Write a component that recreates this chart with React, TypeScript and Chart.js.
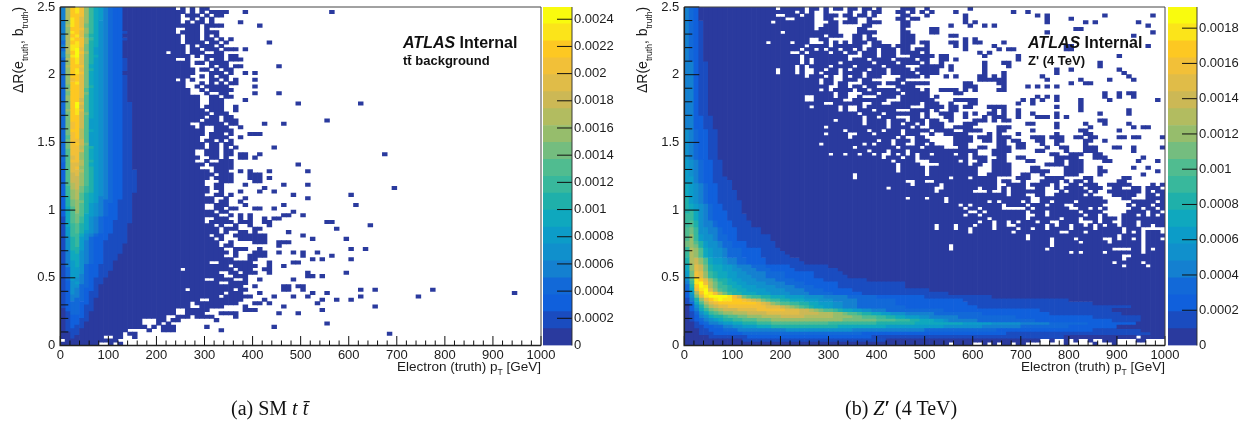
import React, { useEffect, useRef } from "react";
import { Chart, registerables } from "chart.js";
Chart.register(...registerables);

const levelColors = ["#2a3a9e","#1a4cc0","#1060dc","#1269d8","#1480d0","#1090cc","#0c9cc8","#0fa8be","#1fb0aa","#38b89c","#50bc90","#74bd7f","#96bd6c","#b2bc60","#ccb855","#e0bc48","#f2c038","#fdc822","#fbe41a","#f9fb0e"];
const zMaxA = 0.00249;
const zMaxB = 0.00192;
const xTickValues = [0,100,200,300,400,500,600,700,800,900,1000];
const zTicksA = [0,0.0002,0.0004,0.0006,0.0008,0.001,0.0012,0.0014,0.0016,0.0018,0.002,0.0022,0.0024];
const zTicksB = [0,0.0002,0.0004,0.0006,0.0008,0.001,0.0012,0.0014,0.0016,0.0018];

const headA = ["4dhigc9764322","4dhigc9764322","4dhhgc9764322","4dihfc9764322","4cihfc9754322","4dihfb9754322","4chhgc9754322","4cihfc97543221","4dhifb8754322","4dihgc97543221","3dhigc8754322","4diigb8754322","3dijfb8654322","4dhjgc8654322","4cijfb8754322","3dhifb86543221","3chifb86543221","3dhhgb76543221","3chifb86543221","3chigb7654322","3chhfb76543221","3cghfb76543221","3chifb76543221","3bhhfb86543221","3chhfa76543221","3bhhfb76543221","3chhfa76543221","3chhea76543221","3bhjfa765432211","3bhjea765432211","3chifa765432211","3bhieb765432211","3bhhea765432211","3bhhea665432211","3bghea665432211","3bghea665432211","3bhhda765432211","3bghda665432211","3aghda665432211","3bggea665432211","3bgheb665432211","3bggda865432211","3aggea765432211","3aggca765432211","3afgca765432211","3aggda865432211","2affda765432211","2afgca865432211","2affda8654322111","2aefca8654322111","2aeeca8654322111","2aeeca8654322111","2adeca8654322111","29deb98654322111","29cdb98654322111","29cda8765432211","28cda8764432211","28bcb8764332111","28bca8654322111","27aca8654322111","27aca8654322111","27aba7654322111","17ab97543222111","17ab97543221111","179a8754322111","169a8754322111","169a8654322111","16997543221111","15896532221111","15896432211111","1589643221111","1588643221111","1478543221111","147754322111","147754322111","14675432211","14675322111","13665322111","1366532211","1366432211","136543211","125643211","12553321","12543221","12543211","12443211","1243321","1233221","1233211","0233211","013321","012221","012211","01221","01211","0111","0011","001",".00","0"];
const solidA = [24,26,25,25,25,26,24,24,25,25,25,26,26,26,27,27,27,27,28,28,27,26,26,26,27,27,29,29,29,29,30,31,30,29,27,28,30,30,29,29,30,30,28,28,29,28,30,29,31,32,31,30,30,31,31,30,32,32,30,30,32,33,30,30,32,33,33,31,32,33,33,34,35,34,35,31,35,36,33,34,30,33,38,36,34,33,29,27,27,24,24,22,17,17,18,14,13,9,12,8];
const sparseA = ["25,27,29-30","27,29,31-34,38,56","26-28,30,32-33","27,29,31","26,28-29,31,37","26-28,30-33,41","26-28,30","25-28,30-32","26-28,30,32","26-28,30-31,33,35","26-29,31-32,34,43","27,29-31,33","27-28,30-32,34-36,38","27-29,32-33","28,30-33,35-36","30,32-33,35-37","28-29,31-34","31,33-34,36-37,45","29-30,32,34-35","31-33,35,38,40","29,31,33-34","27,31-32,34,36,40","29,31,33,35-36","28,30-34,40","29,31-35","30,33-34,40,45","31-32,34-35","31-33,38","31-33,49,62","30-33,36","31-33,36","32-34","31-32,34-35","30-32,34-36,55","29-33,35-36,42,46","29,32-34,37","32-35","31-33,35,39-41","31-34,37","30-31,33,35","31-32,34-35","31-32,34,36,44","30-32,34-35","30-32,34-35,37-38,41,67","31-32,34,37-38,40","30,33-35","31-35,49","32-35","32-34,37,39,43,51","33-35,39-41","32-35,39-41,43","33-35,40-41","32-33,38,46,51","32-33,42,69","33,37,41,44","32-33,35,48,60","34,38,51","33-34,37","32-34,38,46,61","32-33,35-36,40-41,44","33-34,48","35,37,39,46-47,50","32-34,37,39,42,44-45","31-35,37-39,42-43,55-56","33,36,39,43,64","34-36,40-41,57","34,37-38,40,47","32-33,36-42,50","33,37-42,52,59","35,40-42,45-47","34-35,45","36-38,41,60,63","36,40-42,45,48,50,53","36,39-42,50,56","35,39-40,52,54,60","33-39,43,48-49","36-40,43,46","37-39,42-43","35-36,38-40,43,51,59","36-38,51-52,54","32-35,38,41,48","35-38","40,46-47,49-50","37-38,46-47,50,62,65,77","35-37,41,52,55,94","34-39,44,48,51,62,74","31-37,42,54,57,60","28-36,40-41,43,53","29-33,38,46,65","26-30,38-40,54","26-29,33-36,45,49","24-26,28-31,36","20-21,23-24,32","20,22,55","19,21-23,30,44","18,21-23,33","14-15,68","11-12,15","","10,12"];
const holesA = ["","","","","","","","24","","","","","","22","","24-25","","","","","","24","","","","","","","","","","","","","","","","","","","","","","","","","","","","","","","","","","","","","","","","","","","","","","","","","","","","","","","","25","","","","","","26"];

const headB = ["432","432","432","432","4321","4321","4321","4321","4321","4321","4321","4321","4321","4321","4321","4321","44211","44211","44211","44211","44211","44211","44211","44211","44211","44211","44211","44211","44211","44211","44211","44211","442211","442211","442211","442211","5432211","5432211","5432211","5432211","5432211","5432211","5432211","5432211","5432211","65432211","65432211","65432211","65432211","65432211","6643221110","6643221111","7654322111","7654322111","76543221111","76543221111","86543221111","865432211111","876543221111","876543221111","897543222111","9975432221111","9975432221111","9a854432221111","9a854432221111","ab95544322211111","ab95544322211111","ac9655433221111111","ac9655433221111111","bca8655433222111111","bcb8655433222111111","9dca7655433322221111","9dca76554333222211111","9dca765543332222111111","8deca7665443322221111111","8deca76654433222211111111","7cfeb8776654443332222211111111","7cfeb877665544433322222111111111","6bgfc9877665544443333222222111111","6bgfc98776655544433332222221111111","5aihfca887665554444333322222211~8;","49ijgdb98776655554444333322222~3;1~14;","38hjidb9987766655554444333322~4;1~14;","37gijfca98877666655554444333322~5;1~16;","26dhjigdb988777666555544443333~2;2~6;1~18;","25bfijjjjigeba9988777666655554~5;3~6;2~10;1~14;","148cfhijiihhgfedba99887776665~3;4~5;3~8;2~14;1~22;","137adfghhhhhhhhgfecbaa998877666554~3;3~8;2~15;1~26;","0258bdeffggggggggfffedcba98776655444~1;3~10;2~15;1~32;","02479bcdeeeffffggggggfffeedcbaa98776655444~1;3~12;2~20;1~15;","013579abccdddeeeefffffffeeeedddccbaa98877665~1;5~2;4~6;3~10;2~14;1~15;","012457889aabbcccddddeeeeedddddd~1;ccccbbaaa99887766655~1;4~6;3~12;2~16;1~10;","012345678899aaabbbccc~1;c~12;b~7;a~4;99988777665~1;4~6;3~12;2~16;1~6;","001234456677888~1;9~3;a~12;9~10;8~8;7~10;6~6;5~6;4~6;3~8;2~10;","001122334455666~1;7~3;8~14;7~10;6~12;5~8;4~8;3~10;2~10;","0001122233344~1;4~8;5~14;4~15;3~15;2~20;1~10;","000111222~1;2~3;3~25;2~30;1~30;","0~5;1~8;2~26;1~40;0~5;","0~12;1~30;","0~100;"];
const holesB = ["19,25,28,30,33,36,39,41-44,48-49","23,25,27-28,30-33,35-36,38,41-43,46,48,50","19-20,24,27-28,32,35,38,40-44,47-49","21-22,27-28,31-33,36-37,39-43,46,49-50","18,27-29,32,36-37,41-44,47-50","27-28,32-36,39-44,47-50","27,32-35,38-44,46-50","20,32-35,40-44,47-50","29,33-34,37,39-44,48-50","26-27,30-34,37,40-44,48-50","17,22,26-28,30,32,34,38,41-44,48","25,30,37-38,43,47-49","24,27,29,32,35,37,40,44,47","22-23,25,30,33,36,40,44,49","24,34-36,40,44-46","24,26,34,38,43,48","24,26,32,39,44,49","23,25,30,35,41,46-48","19,23,25-26,29,32,34,38,42,47","19,23,25-26,28,32,37,42,48","25,29,31-32,34,37,41-44,49","28,31-32,36,39-43,46-50","28,31,34-36,41,45","30-31,34,37,40-43,48-50","28,30,35,38,44,49","31,34-36,40,45","25-26,31,34-35,37-39,44","25-26,33-34,42-44","29-30,37-38,41-42,49","26,32,34-35,37,47-49","32,34-35,39,44-46","36,41,49","37,40,44-46,49","31,37,42,46,50","37,42,45,48,50","29,42,47,49-50","33,38,41,45","29,34-35,39,45,49-50","34,44,46-47,50","40,43,47","28,37,39,43,46-47,50","35,44,49","38,42,46","30,33,36,39,41-42,44,46,48","41,45,48","43,48-50","44,49-50","44,50","44,50,61-63,68-71,76-78,83-85,88-97,99","35,50,61-62,68-69,72-73,75-78,82-85,87-94,96-99","35,55,59,65-68,72-74,79-82,85-90,93-99","46-47,50-51,65,68-69,71-73,78,80,83,85-89,92-99","47,53,65-66,71,76,78-79,82,86-87,93-96,98","42,52-53,61,65,67,71-72,75-76,78,83,87-88,91-92,95,99","52,60-62,64-65,67,75-77,79,84,86-87,95,97","67,71-72,75-76,83,85-88,94-95,98","46,50,54,72-73,87-90,93-95","54,63,65,70,72-73,76,81,88-92,98","57,59,66,71,75,79-80,87-91,93,97","58,61,66-70,72,80-81,84,86,88-92,95,98","59-60,62,71,75,82,87-91,96,99","58,61,71-72,75,83,86,88-90,94,96,98","63,71,78,82,86,90","61,64,67,69,73,76-77,82-84,86,89-90,94","52,56,60,64,67-68,75,77,80,83,85,87,90,94,97","52,56,59,64,69,72,75,80,85,91,95-99","59,68,78-79,83,91,93,95,99","71,90,95","71,76,81,87-88,90,93,95,99","76,82,88,95","55,76,95","55,75,89-92,95,97","80,82,87,95","91-92","91","89,95","91,96","","","","","","","","","","","","","","","","","","","","","94","74-75,77-78,80,82-83,85-86,90-93,96-99","55,60-61,63,65,68,71-78,80-84,86-88,90-99","1,47,49,51,53,56,58,60,62,64-67,69-99"];
const sparseB = ["59","51,56,68,71","58,73,75,87,97","58,75,80","58,60,75,83,85,94","55,59,62,64,96","51-52,81-82","51-52,75,97","55-56,93","58,60","55-56,58,60-61,66","56,58,64,79-80,96","58,65,67-68,79-80","61,63","51,53-54,62,69,90","53-54,56,69","53,62,66-67,86","51-53,55,62,67,86","51-52,55,62,77,80,90","51-52,62,66,77,91","54,56,61-62,64,66,74,92","61-66,75,82,88,93","58-59,65-66,80,83-84","58-60,66,71,73,75,77","53-56,58,60,65-66","56-57,87,90,92-93","52,73,75,77,87,90,93","51,56-60,70,72,74,77,82,88,98","51-52,55,59-60,69,72,82","51-53,55-56,58-59,63-66,77,82","52,55-56,64,66,69,82,92","53-55,58,60,63-64,66,69,72,77,86,92","54-55,58,62,64-66,69,73-75,77,79","51-52,55,60-62,64,66-67,86-87","51-53,58-60,71-72,77,83,87,92","51-53,56-59,65-67,77,84,93,95-96","52-55,58-61,65-66,72,82-83,90","51,54-58,63,65,69,77,83-84","56-59,61-63,65-67,72-74,76-78,81-82,84-85,90-91,93-94,99","56-59,62-63,65-66,68-69,73-74,77-78,83-84,87","51,56-58,65-66,69-70,74,77,83","51-53,57-58,61-62,65-67,69-70,75,78-79,83-85,89-90,93,99","51-60,64-67,73-74,79,83-85,93","52-55,57-58,60,64-66,76-77,80-82,85-86","51-58,60-62,65-66,69-70,77-81,85-87,95","51-56,58,61-62,64-66,71-72,77-78,80-82,87-88,94,98","53-58,60-61,64-67,75-78,80-82","51-60,64-67,72-73,79-82,86,93,96"];

const parseCols = (spec: string): number[] => {
  const out: number[] = [];
  spec.split(",").forEach((p) => {
    if (!p) return;
    const [a, b] = p.split("-").map(Number);
    for (let c = a; c <= (b ?? a); c++) out.push(c);
  });
  return out;
};
const expandRow = (s: string) => s.replace(/(.)~(\d+);/g, (_m, c, n) => c.repeat(+n));
const levelOf = (c: string) => (c === "." ? -1 : parseInt(c, 36));

function buildGrid(head: string[], solid: number[], sparse: string[], holes: string[]) {
  return head.map((h, r) => {
    const row = expandRow(h);
    const cells: number[] = [];
    for (let c = 0; c < 100; c++) cells.push(c < row.length ? levelOf(row[c]) : c < solid[r] ? 0 : -1);
    parseCols(sparse[r] || "").forEach((c) => { if (c < 100 && cells[c] < 0) cells[c] = 0; });
    parseCols(holes[r] || "").forEach((c) => { if (c < 100) cells[c] = -1; });
    return cells;
  });
}

function barsFromGrid(grid: number[][]) {
  const data: { x: number; y: [number, number] }[][] = levelColors.map(() => []);
  for (let c = 0; c < 100; c++) {
    let r = 99;
    while (r >= 0) {
      const lv = grid[r][c];
      let e = r;
      while (e - 1 >= 0 && grid[e - 1][c] === lv) e--;
      if (lv >= 0) data[lv].push({ x: c * 10 + 5, y: [(99 - r) * 0.025, (100 - e) * 0.025] });
      r = e - 1;
    }
  }
  return data;
}

const SANS = "'Liberation Sans', Arial, sans-serif";
const INK = "#1c1c1c";

const noPadding = (s: any) => {
  s.paddingTop = 0;
  s.paddingBottom = 0;
  s.paddingLeft = 0;
  s.paddingRight = 0;
};

function drawRuns(ctx: CanvasRenderingContext2D, runs: [string, number][], big: string, small: string) {
  let x = 0;
  runs.forEach(([t, dy]) => {
    ctx.font = dy ? small : big;
    ctx.fillText(t, x, dy);
    x += ctx.measureText(t).width;
  });
}

function panelPlugin(sub: string, tx: number, subFont: string) {
  return {
    id: "panelMarks",
    afterDraw(chart: any) {
      const { ctx, chartArea: a, scales } = chart;
      ctx.save();
      ctx.strokeStyle = "#111";
      ctx.lineWidth = 1;
      for (let v = 0; v <= 1000; v += 20) {
        const px = scales.x.getPixelForValue(v);
        const len = v % 100 === 0 ? 9.5 : 5;
        ctx.beginPath(); ctx.moveTo(px, a.bottom); ctx.lineTo(px, a.bottom - len); ctx.stroke();
      }
      for (let i = 0; i <= 25; i++) {
        const py = scales.y.getPixelForValue(i / 10);
        const len = i % 5 === 0 ? 15 : 8;
        ctx.beginPath(); ctx.moveTo(a.left, py); ctx.lineTo(a.left + len, py); ctx.stroke();
      }
      ctx.strokeStyle = "#444";
      ctx.lineWidth = 1;
      ctx.beginPath(); ctx.moveTo(a.left, a.top); ctx.lineTo(a.right, a.top); ctx.lineTo(a.right, a.bottom); ctx.stroke();
      ctx.strokeStyle = "#222";
      ctx.lineWidth = 1.6;
      ctx.beginPath(); ctx.moveTo(a.left, a.top); ctx.lineTo(a.left, a.bottom); ctx.lineTo(a.right, a.bottom); ctx.stroke();

      ctx.fillStyle = INK;
      ctx.textBaseline = "alphabetic";
      ctx.textAlign = "left";
      ctx.save();
      ctx.translate(a.right - 144, 371);
      drawRuns(ctx, [["Electron (truth) p", 0], ["T", 4], [" [GeV]", 0]], `13.5px ${SANS}`, `8.5px ${SANS}`);
      ctx.restore();
      ctx.save();
      ctx.translate(a.left - 37, 93);
      ctx.rotate(-Math.PI / 2);
      drawRuns(ctx, [["\u0394R(e", 0], ["truth", 5], [", b", 0], ["truth", 5], [")", 0]], `14px ${SANS}`, `8.5px ${SANS}`);
      ctx.restore();

      ctx.fillStyle = "#111";
      ctx.translate(tx, 48);
      ctx.font = `italic bold 16px ${SANS}`;
      ctx.fillText("ATLAS", 0, 0);
      const w = ctx.measureText("ATLAS ").width;
      ctx.font = `bold 16px ${SANS}`;
      ctx.fillText("Internal", w, 0);
      ctx.font = subFont;
      ctx.fillText(sub, 0, 17);
      ctx.restore();
    },
  };
}

const barPlugin = {
  id: "barMarks",
  afterDraw(chart: any) {
    const { ctx, chartArea: a, scales } = chart;
    ctx.save();
    ctx.strokeStyle = "#111";
    ctx.lineWidth = 1;
    scales.y.ticks.forEach((t: any) => {
      if (!t.value) return;
      const py = scales.y.getPixelForValue(t.value);
      ctx.beginPath(); ctx.moveTo(a.right, py); ctx.lineTo(a.right - 15, py); ctx.stroke();
    });
    ctx.strokeStyle = "rgba(40,40,40,0.75)";
    ctx.lineWidth = 1.2;
    ctx.beginPath(); ctx.moveTo(a.right, a.top); ctx.lineTo(a.right, a.bottom); ctx.stroke();
    ctx.restore();
  },
};

function heatChart(canvas: HTMLCanvasElement, grid: number[][], sub: string, subX: number, subFont: string) {
  const series = barsFromGrid(grid);
  return new Chart(canvas, {
    type: "bar",
    data: {
      datasets: series.map((d, i) => ({
        label: `level ${i}`,
        data: d as any,
        backgroundColor: levelColors[i],
        borderWidth: 0,
        grouped: false,
        barPercentage: 1,
        categoryPercentage: 1,
      })),
    },
    options: {
      animation: false,
      responsive: false,
      layout: { autoPadding: false, padding: { left: 0, top: 7, right: 84, bottom: 0 } },
      plugins: { legend: { display: false }, tooltip: { enabled: false } },
      scales: {
        x: {
          type: "linear", min: 0, max: 1000, offset: false,
          afterBuildTicks: (s: any) => { s.ticks = xTickValues.map((v) => ({ value: v })); },
          afterFit: (s: any) => { s.height = 85.5; noPadding(s); },
          grid: { display: false, drawTicks: false }, border: { display: false },
          ticks: { font: { family: SANS, size: 13 }, color: INK, padding: 2, maxRotation: 0, autoSkip: false, callback: (v: any) => String(v) },
        },
        y: {
          type: "linear", min: 0, max: 2.5,
          afterFit: (s: any) => { s.width = 60.3; noPadding(s); },
          grid: { display: false, drawTicks: false }, border: { display: false },
          ticks: { font: { family: SANS, size: 13 }, color: INK, padding: 5, stepSize: 0.5, callback: (v: any) => String(v) },
        },
      },
    } as any,
    plugins: [panelPlugin(sub, subX, subFont) as any],
  });
}

function barChart(canvas: HTMLCanvasElement, zMax: number, zTicks: number[]) {
  const step = zMax / levelColors.length;
  return new Chart(canvas, {
    type: "bar",
    data: {
      labels: ["z"],
      datasets: levelColors.map((c, i) => ({
        label: `band ${i}`,
        data: [[i * step, (i + 1) * step]] as any,
        backgroundColor: c,
        borderWidth: 0,
        grouped: false,
        barPercentage: 1,
        categoryPercentage: 1,
      })),
    },
    options: {
      animation: false,
      responsive: false,
      layout: { autoPadding: false, padding: { left: 0, top: 7, right: 0, bottom: 85.5 } },
      plugins: { legend: { display: false }, tooltip: { enabled: false } },
      scales: {
        x: { display: false },
        y: {
          type: "linear", position: "right", min: 0, max: zMax,
          afterBuildTicks: (s: any) => { s.ticks = zTicks.map((v) => ({ value: v })); },
          afterFit: (s: any) => { s.width = 56; noPadding(s); },
          grid: { display: false, drawTicks: false }, border: { display: false },
          ticks: { font: { family: SANS, size: 13 }, color: INK, padding: 2, autoSkip: false, callback: (v: any) => String(v) },
        },
      },
    } as any,
    plugins: [barPlugin as any],
  });
}

const gridA = buildGrid(headA, solidA, sparseA, holesA);
const gridB = buildGrid(headB, headB.map((_, r) => (r < 48 ? 51 : 100)), sparseB, holesB);

export default function App() {
  const a = useRef<HTMLCanvasElement>(null);
  const b = useRef<HTMLCanvasElement>(null);
  const ca = useRef<HTMLCanvasElement>(null);
  const cb = useRef<HTMLCanvasElement>(null);
  useEffect(() => {
    const charts = [
      heatChart(a.current!, gridA, "tt\u0304 background", 403, `bold 13px ${SANS}`),
      heatChart(b.current!, gridB, "Z' (4 TeV)", 404, `bold 13px ${SANS}`),
      barChart(ca.current!, zMaxA, zTicksA),
      barChart(cb.current!, zMaxB, zTicksB),
    ];
    return () => charts.forEach((c) => c.destroy());
  }, []);
  const cv = (left: number, w: number): React.CSSProperties => ({ position: "absolute", left, top: 0, width: w, height: 431 });
  const cap: React.CSSProperties = { position: "absolute", top: 397, fontFamily: "'Liberation Serif', serif", fontSize: 20, color: "#111", whiteSpace: "pre" };
  return (
    <div style={{ position: "absolute", left: 0, top: 0, width: 1252, height: 431, background: "#fff", overflow: "hidden" }}>
      <canvas ref={a} width={625} height={431} style={cv(0, 625)} />
      <canvas ref={ca} width={85} height={431} style={cv(543.3, 85)} />
      <canvas ref={b} width={625} height={431} style={cv(624, 625)} />
      <canvas ref={cb} width={85} height={431} style={cv(1167.6, 85)} />
      <span style={{ ...cap, left: 231 }}>(a) SM <i>t t&#772;</i></span>
      <span style={{ ...cap, left: 845 }}>(b) <i>Z</i><b>&#8242;</b> (4 TeV)</span>
    </div>
  );
}
